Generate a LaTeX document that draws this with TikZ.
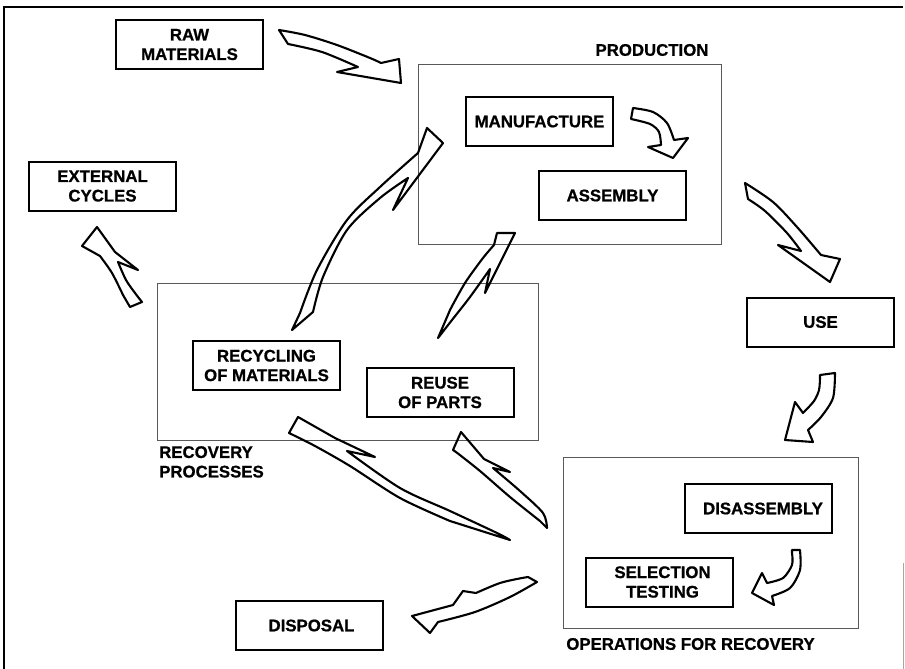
\documentclass[tikz,border=0pt]{standalone}
\usepackage{fontspec}
\setmainfont{Liberation Sans}[BoldFeatures={FakeBold=0.8}]
\newcommand{\lblfont}{\fontsize{16.8}{19.5}\selectfont\bfseries}
\begin{document}
\begin{tikzpicture}[x=1pt,y=-1pt,
  box/.style={draw, line width=2pt, minimum width=147pt, minimum height=49pt, align=center, inner sep=0pt, font=\lblfont},
  grp/.style={draw=black!65, line width=0.9pt, minimum width=0pt, inner sep=0pt},
  glabel/.style={font=\lblfont, inner sep=0pt, align=left},
  barrow/.style={draw=black, line width=2.1pt, line join=round}]
\useasboundingbox (0,0) rectangle (905,669);
% outer frame
\draw[line width=2pt] (4,669) -- (4,7) -- (903,7);
\draw[black!35, line width=0.6pt] (903,563) -- (903,669);
% group boxes
\node[grp, minimum width=303pt, minimum height=180pt] (prod) at (569.5,154) {};
\node[grp, minimum width=381pt, minimum height=157pt] (recov) at (347.5,361.5) {};
\node[grp, minimum width=295pt, minimum height=171pt] (ops) at (710.5,542.5) {};
\node[glabel] (prodl) at (652,50) {PRODUCTION};
\node[glabel, anchor=north west] (recovl) at (159,446) {RECOVERY\\PROCESSES};
\node[glabel] (opsl) at (690.5,644) {OPERATIONS FOR RECOVERY};
% boxes
\node[box] (raw) at (189.5,44.5) {RAW\\MATERIALS};
\node[box] (ext) at (102.5,186) {EXTERNAL\\CYCLES};
\node[box] (manu) at (539.5,121.5) {MANUFACTURE};
\node[box] (assy) at (612.5,195.5) {ASSEMBLY};
\node[box] (recyc) at (266.5,365.5) {RECYCLING\\OF MATERIALS};
\node[box] (reuse) at (440,392.5) {REUSE\\OF PARTS};
\node[box] (use) at (820.5,322) {USE};
\node[box] (disas) at (758,508.5) {\hspace*{10pt}DISASSEMBLY};
\node[box] (selt) at (659.5,582) {\hspace*{6pt}SELECTION\\\hspace*{6pt}TESTING};
\node[box] (disp) at (309,625.5) {\hspace*{5pt}DISPOSAL};
% arrows
% raw -> production
\draw[barrow] plot[smooth] coordinates {(279,30) (305,35) (337,45) (370,58) (381,63)} -- (399,59) -- (401,83) -- (337,72) -- plot[smooth] coordinates {(358,67) (322,52) (288,44)} -- cycle;
% manufacture -> assembly
\draw[barrow] plot[smooth] coordinates {(633,108) (653,112) (667,123) (674,140)} -- (688,138) -- (673,158) -- (648,147) -- plot[smooth] coordinates {(661,145) (659,132) (650,124) (631,119)} -- cycle;
% production -> use
\draw[barrow] plot[smooth] coordinates {(745,183) (773,202) (797,227) (821,255)} -- (840,259) -- (830,282) -- (778,245) -- plot[smooth] coordinates {(801,251) (787,233) (765,211) (748,199)} -- cycle;
% use -> operations
\draw[barrow] (820,375) -- plot[smooth] coordinates {(835,373) (833,398) (821,417) (808,430)} -- (813,442) -- (785,440) -- (795,402) -- plot[smooth] coordinates {(803,413) (814,401) (819,390) (820,378)} -- cycle;
% disassembly -> selection
\draw[barrow] (792,550) -- plot[smooth] coordinates {(800,550) (800,570) (790,588) (772,596)} -- (774,605) -- (752,593) -- (762,573) -- plot[smooth] coordinates {(767,583) (783,578) (792,565) (792,553)} -- cycle;
% operations -> disposal
\draw[barrow] (528,577) -- plot[smooth] coordinates {(537,582) (510,597) (475,612) (438,622)} -- (430,633) -- (412,616) -- (453,605) -- (463,591) -- plot[smooth] coordinates {(476,593) (500,583) (522,578)} -- cycle;
% operations -> reuse
\draw[barrow] (453,450) -- (461,432) -- (484,459) -- (510,472) -- plot[smooth] coordinates {(493,468) (520,491) (543,513) (547,528)} -- plot[smooth] coordinates {(540,521) (510,497) (480,471) (456,452)} -- cycle;
% operations -> recycling
\draw[barrow] (298,417) -- (335,438) -- (375,457) -- plot[smooth] coordinates {(347,451) (400,488) (450,511) (497,533) (510,540)} -- plot[smooth] coordinates {(450,521) (400,498) (350,466) (315,446) (289,433)} -- cycle;
% reuse -> production
\draw[barrow] (497,233) -- (515,233) -- (485,293) -- plot[smooth] coordinates {(490,269) (470,297) (452,320) (438,338)} -- plot[smooth] coordinates {(450,310) (465,283) (483,258) (494,245)} -- cycle;
% recycling -> manufacture
\draw[barrow] (427,128) -- (443,143) -- (393,210) -- plot[smooth] coordinates {(408,178) (380,198) (347,230) (323,277) (313,312)} -- (292,330) -- plot[smooth] coordinates {(300,313) (317,270) (347,220) (380,187) (418,153)} -- cycle;
% recovery -> external cycles
\draw[barrow] (97,227) -- (115,252) -- (138,270) -- plot[smooth] coordinates {(118,262) (126,280) (135,293) (142,302)} -- (130,307) -- plot[smooth] coordinates {(123,295) (112,273) (100,256)} -- (82,246) -- cycle;
\end{tikzpicture}
\end{document}
